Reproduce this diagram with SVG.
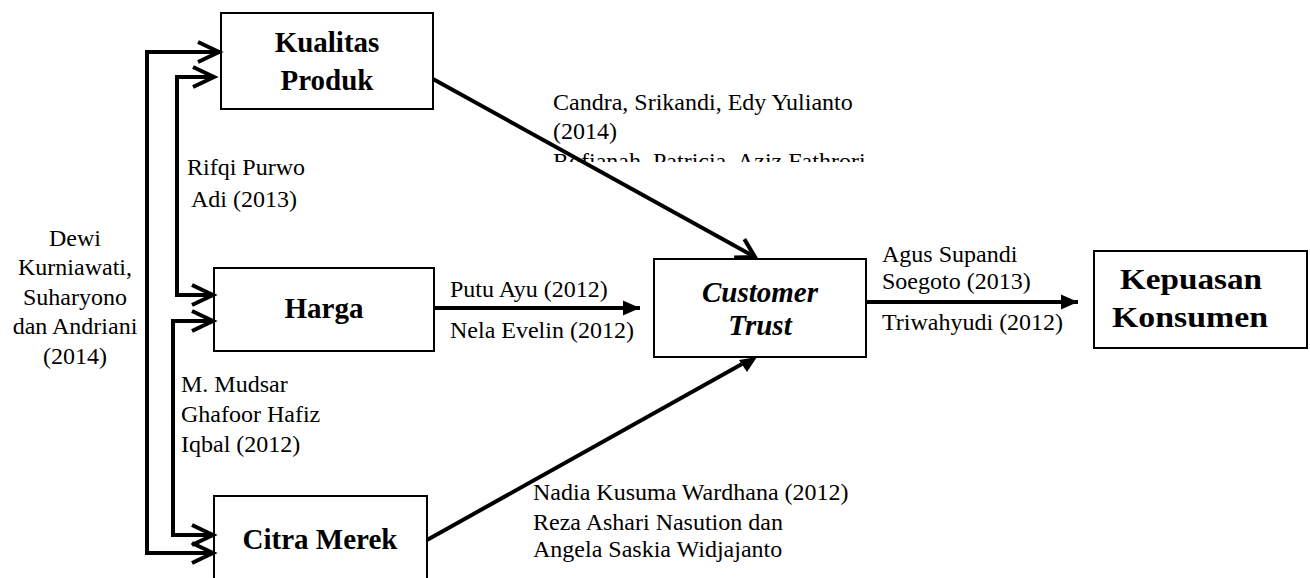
<svg xmlns="http://www.w3.org/2000/svg" width="1310" height="578" viewBox="0 0 1310 578">
<style>
.box{fill:#fff;stroke:#000;stroke-width:2}
.t{font-family:"Liberation Serif","Times New Roman",serif;font-size:24px;fill:#000}
.b{font-family:"Liberation Serif","Times New Roman",serif;font-size:29px;font-weight:bold;fill:#000;text-anchor:middle}
.bi{font-style:italic}
.c{text-anchor:middle}
.ln{fill:none;stroke:#000;stroke-width:4}
</style>
<defs>
<marker id="chev" markerUnits="userSpaceOnUse" markerWidth="40" markerHeight="40" viewBox="-30 -20 40 40" refX="0" refY="0" orient="auto-start-reverse" overflow="visible">
<path d="M-21,-10 L0,0 L-21,10" fill="none" stroke="#000" stroke-width="4"/>
</marker>
<marker id="chev2" markerUnits="userSpaceOnUse" markerWidth="40" markerHeight="40" viewBox="-30 -20 40 40" refX="0" refY="0" orient="auto" overflow="visible">
<path d="M-18,-10.5 L0,0 L-18,10.5" fill="none" stroke="#000" stroke-width="4"/>
</marker>
<marker id="tri" markerUnits="userSpaceOnUse" markerWidth="40" markerHeight="40" viewBox="-30 -20 40 40" refX="0" refY="0" orient="auto" overflow="visible">
<path d="M-17,-7.5 L0,0 L-17,7.5 Z" fill="#000"/>
</marker>
<clipPath id="clipR"><rect x="540" y="0" width="400" height="162"/></clipPath>
</defs>

<g id="labels">
<g id="lbl-dewi" class="t c">
<text x="75" y="246">Dewi</text>
<text x="75" y="275">Kurniawati,</text>
<text x="75" y="305">Suharyono</text>
<text x="75" y="334">dan Andriani</text>
<text x="75" y="364">(2014)</text>
</g>
<g id="lbl-rifqi" class="t">
<text x="187" y="175">Rifqi Purwo</text>
<text x="191" y="207">Adi (2013)</text>
</g>
<g id="lbl-mudsar" class="t">
<text x="181" y="392">M. Mudsar</text>
<text x="181" y="422">Ghafoor Hafiz</text>
<text x="181" y="452">Iqbal (2012)</text>
</g>
<g id="lbl-candra" class="t">
<text x="553" y="110">Candra, Srikandi, Edy Yulianto</text>
<text x="553" y="139">(2014)</text>
<text x="553" y="169" clip-path="url(#clipR)">Rofianah, Patricia, Aziz Fathrori</text>
</g>
<g id="lbl-putu" class="t">
<text x="450" y="297">Putu Ayu (2012)</text>
<text x="450" y="338">Nela Evelin (2012)</text>
</g>
<g id="lbl-nadia" class="t">
<text x="533" y="500">Nadia Kusuma Wardhana (2012)</text>
<text x="533" y="530">Reza Ashari Nasution dan</text>
<text x="533" y="557">Angela Saskia Widjajanto</text>
</g>
<g id="lbl-agus" class="t">
<text x="882" y="262">Agus Supandi</text>
<text x="882" y="289">Soegoto (2013)</text>
<text x="882" y="330">Triwahyudi (2012)</text>
</g>
</g>

<g id="node-kualitas">
<rect class="box" x="221" y="13" width="212" height="96"/>
<text class="b" x="327" y="52">Kualitas</text>
<text class="b" x="327" y="90">Produk</text>
</g>
<g id="node-harga">
<rect class="box" x="214" y="268" width="220" height="83"/>
<text class="b" x="324" y="318">Harga</text>
</g>
<g id="node-citra">
<rect class="box" x="214" y="496" width="213" height="100"/>
<text class="b" x="320" y="549">Citra Merek</text>
</g>
<g id="node-trust">
<rect class="box" x="654" y="259" width="212" height="98"/>
<text class="b bi" x="760" y="302">Customer</text>
<text class="b bi" x="760" y="335">Trust</text>
</g>
<g id="node-kepuasan">
<rect class="box" x="1094" y="251" width="213" height="97"/>
<text class="b" x="1191" y="289" textLength="142" lengthAdjust="spacingAndGlyphs">Kepuasan</text>
<text class="b" x="1190" y="327" textLength="156" lengthAdjust="spacingAndGlyphs">Konsumen</text>
</g>

<g id="connectors">
<path class="ln" d="M219,52 H147 V553 H213" marker-start="url(#chev)" marker-end="url(#chev)"/>
<path class="ln" d="M214,77 H177 V295 H213" marker-start="url(#chev)" marker-end="url(#chev)"/>
<path class="ln" d="M213,321 H173 V535 H213" marker-start="url(#chev)" marker-end="url(#chev)"/>
<path class="ln" d="M433,79 L755,257" marker-end="url(#chev2)"/>
<path class="ln" d="M434,308 H640" marker-end="url(#tri)"/>
<path class="ln" d="M427,540 L742,364"/>
<path d="M757,357 L739,360 L747,372 Z" fill="#000"/>
<path class="ln" d="M866,302 H1078" marker-end="url(#tri)"/>
</g>
</svg>
